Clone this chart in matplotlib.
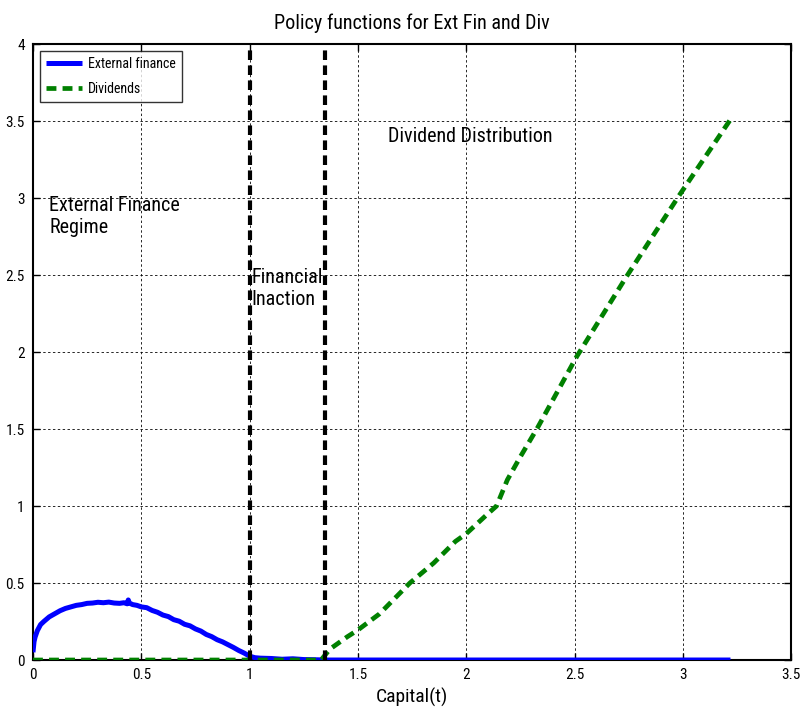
import matplotlib
matplotlib.use("Agg")
import matplotlib.pyplot as plt
from matplotlib import font_manager

# Policy function data
capital_ext = [0.0, 0.005, 0.01, 0.02, 0.035, 0.05, 0.075, 0.1, 0.125, 0.15, 0.175, 0.2,
               0.225, 0.25, 0.275, 0.3, 0.325, 0.35, 0.375, 0.4, 0.42, 0.435, 0.44, 0.445,
               0.46, 0.48, 0.5, 0.525, 0.55, 0.575, 0.6, 0.625, 0.65, 0.675, 0.7, 0.725,
               0.75, 0.775, 0.8, 0.825, 0.85, 0.875, 0.9, 0.925, 0.95, 0.975, 1.0, 1.025,
               1.05, 1.1, 1.15, 1.2, 1.25, 1.3, 1.35, 3.22]
ext_finance = [0.05, 0.12, 0.15, 0.19, 0.23, 0.25, 0.28, 0.30, 0.32, 0.335, 0.345, 0.355,
               0.36, 0.368, 0.37, 0.375, 0.372, 0.376, 0.37, 0.368, 0.372, 0.365, 0.39, 0.37,
               0.36, 0.355, 0.345, 0.34, 0.322, 0.31, 0.292, 0.282, 0.262, 0.252, 0.232, 0.222,
               0.202, 0.188, 0.166, 0.152, 0.132, 0.118, 0.100, 0.082, 0.062, 0.045, 0.025, 0.015,
               0.012, 0.01, 0.005, 0.008, 0.003, 0.002, 0.0, 0.0]

capital_div = [0.0, 1.33, 1.37, 1.45, 1.5, 1.6, 1.74, 1.85, 1.95, 2.0, 2.1, 2.14, 2.19,
               2.25, 2.33, 2.51, 2.74, 2.98, 3.22]
dividends = [0.0, 0.0, 0.07, 0.15, 0.195, 0.30, 0.50, 0.63, 0.77, 0.82, 0.95, 1.0, 1.17,
             1.32, 1.51, 1.97, 2.49, 3.01, 3.51]

regime_bounds = [1.0, 1.35]

x_ticks = [0, 0.5, 1, 1.5, 2, 2.5, 3, 3.5]
x_ticklabels = ["0", "0.5", "1", "1.5", "2", "2.5", "3", "3.5"]
y_ticks = [0, 0.5, 1, 1.5, 2, 2.5, 3, 3.5, 4]
y_ticklabels = ["0", "0.5", "1", "1.5", "2", "2.5", "3", "3.5", "4"]


def pick_narrow_font():
    """Return a narrow sans font entry if one is installed."""
    wanted = ["narrow", "condensed", "semicondensed"]
    candidates = []
    for f in font_manager.fontManager.ttflist:
        path = f.fname.lower()
        if any(w in path for w in wanted) and "bold" not in path and "italic" not in path \
                and "oblique" not in path and "light" not in path:
            candidates.append(f)
    prefs = ["liberationsansnarrow", "liberation", "roboto", "opensans", "notosans",
             "dejavusanscondensed", "dejavu"]
    for p in prefs:
        for f in candidates:
            if p in f.fname.lower().replace("-", "").replace("_", "").replace(" ", ""):
                return f
    return candidates[0] if candidates else None


narrow = pick_narrow_font()
if narrow is not None:
    plt.rcParams["font.family"] = [narrow.name, "Liberation Sans", "DejaVu Sans"]
    plt.rcParams["font.stretch"] = narrow.stretch
else:
    plt.rcParams["font.family"] = ["Liberation Sans", "DejaVu Sans"]

fig = plt.figure(figsize=(8.04, 7.10), dpi=100)
ax = fig.add_axes([0.041, 0.0704, 0.943, 0.8676])

ax.plot(capital_ext, ext_finance, color="#0000ff", lw=3.6, solid_capstyle="butt",
        label="External finance", zorder=3)
ax.plot(capital_div, dividends, color="#008000", lw=3.4, dashes=(2.1, 1.3),
        label="Dividends", zorder=4)
for xb in regime_bounds:
    ax.axvline(xb, color="black", lw=3.0, dashes=(2.3, 1.3), zorder=5)

ax.set_xlim(0, 3.5)
ax.set_ylim(0, 4)
ax.set_xticks(x_ticks)
ax.set_xticklabels(x_ticklabels)
ax.set_yticks(y_ticks)
ax.set_yticklabels(y_ticklabels)
ax.tick_params(direction="in", top=True, right=True, length=5, width=1,
               labelsize=11, pad=6)
ax.grid(True, color="black", lw=0.7, linestyle=(0, (2.5, 2.5)), alpha=0.85)
for s in ax.spines.values():
    s.set_linewidth(1.5)
    s.set_color("black")

ax.set_title("Policy functions for Ext Fin and Div", fontsize=14.5, pad=11)
ax.set_xlabel("Capital(t)", fontsize=14, labelpad=4)

ax.text(0.075, 2.88, "External Finance\nRegime", fontsize=14.5, va="center", ha="left")
ax.text(1.01, 2.41, "Financial\nInaction", fontsize=14.5, va="center", ha="left")
ax.text(1.64, 3.40, "Dividend Distribution", fontsize=14.5, va="center", ha="left")

leg = ax.legend(loc="upper left", fontsize=10, frameon=True, fancybox=False,
                edgecolor="black", handlelength=2.6, handletextpad=0.4,
                labelspacing=0.75, borderpad=0.45, borderaxespad=0.5,
                bbox_to_anchor=(0.0, 1.0))
leg.get_frame().set_linewidth(1.0)

fig.savefig("out.png", dpi=100)
